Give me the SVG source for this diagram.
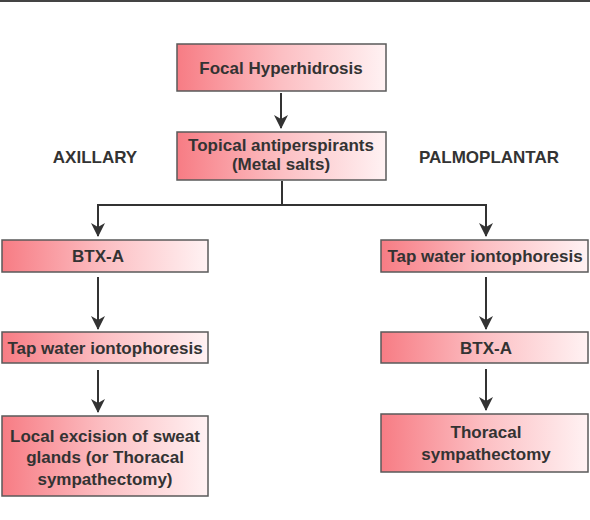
<svg xmlns="http://www.w3.org/2000/svg" width="590" height="520" viewBox="0 0 590 520">
<defs>
<linearGradient id="g" x1="0" y1="0" x2="1" y2="0">
<stop offset="0" stop-color="#f77c84"/>
<stop offset="0.5" stop-color="#fcbfc3"/>
<stop offset="1" stop-color="#fff2f3"/>
</linearGradient>
<marker id="ah" markerUnits="userSpaceOnUse" markerWidth="14" markerHeight="18" refX="13" refY="7" orient="auto" viewBox="0 0 14 14">
<path d="M0,0 L14,7 L0,14 L4,7 Z" fill="#333"/>
</marker>
<style>
.box{fill:url(#g);stroke:#5a5a5a;stroke-width:1.5}
.t{font-family:"Liberation Sans",Arial,sans-serif;font-weight:bold;font-size:17px;fill:#333;text-anchor:middle}
.c{fill:none;stroke:#333;stroke-width:2}
</style>
</defs>
<rect width="590" height="520" fill="#fff"/>
<line x1="0" y1="1" x2="590" y2="1" stroke="#444" stroke-width="2"/>
<g id="connectors">
<line class="c" x1="281" y1="93" x2="281" y2="128" marker-end="url(#ah)"/>
<polyline class="c" points="282,181 282,205 98,205 98,236" marker-end="url(#ah)"/>
<polyline class="c" points="282,205 486,205 486,236" marker-end="url(#ah)"/>
<line class="c" x1="98" y1="277" x2="98" y2="329" marker-end="url(#ah)"/>
<line class="c" x1="98" y1="370" x2="98" y2="412" marker-end="url(#ah)"/>
<line class="c" x1="486" y1="277" x2="486" y2="329" marker-end="url(#ah)"/>
<line class="c" x1="486" y1="369" x2="486" y2="410" marker-end="url(#ah)"/>
</g>
<g id="n1"><rect class="box" x="177" y="44" width="209" height="47"/><text class="t" x="281" y="74">Focal Hyperhidrosis</text></g>
<g id="n2"><rect class="box" x="177" y="132" width="209" height="48"/><text class="t" x="281" y="151">Topical antiperspirants</text><text class="t" x="281" y="170">(Metal salts)</text></g>
<g id="lblA"><text class="t" x="95" y="163">AXILLARY</text></g>
<g id="lblP"><text class="t" x="489" y="163">PALMOPLANTAR</text></g>
<g id="n3"><rect class="box" x="2" y="240" width="206" height="32"/><text class="t" x="98" y="262">BTX-A</text></g>
<g id="n4"><rect class="box" x="2" y="332" width="206" height="31"/><text class="t" x="105" y="354">Tap water iontophoresis</text></g>
<g id="n5"><rect class="box" x="2" y="416" width="206" height="80"/><text class="t" x="105" y="442">Local excision of sweat</text><text class="t" x="105" y="463">glands (or Thoracal</text><text class="t" x="105" y="485">sympathectomy)</text></g>
<g id="n6"><rect class="box" x="381" y="240" width="207" height="32"/><text class="t" x="485" y="262">Tap water iontophoresis</text></g>
<g id="n7"><rect class="box" x="381" y="332" width="207" height="31"/><text class="t" x="486" y="354">BTX-A</text></g>
<g id="n8"><rect class="box" x="381" y="414" width="207" height="58"/><text class="t" x="486" y="438">Thoracal</text><text class="t" x="486" y="460">sympathectomy</text></g>
</svg>
